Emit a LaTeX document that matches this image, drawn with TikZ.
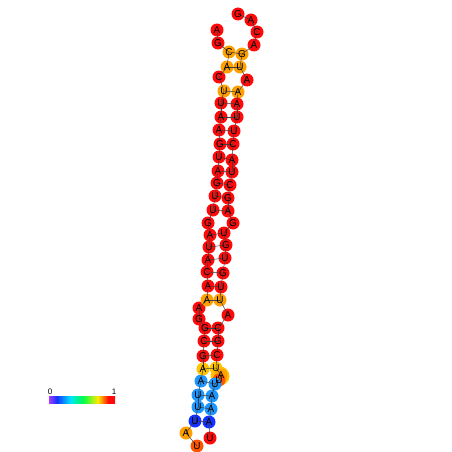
\documentclass[tikz,border=0pt]{standalone}
\usepackage{fontspec}
\setmainfont{Liberation Sans}
\definecolor{cR}{RGB}{255,10,10}
\definecolor{cO}{RGB}{255,160,0}
\definecolor{cY}{RGB}{255,195,0}
\definecolor{cL}{RGB}{255,85,0}
\definecolor{cB}{RGB}{30,150,255}
\definecolor{cD}{RGB}{20,50,255}
\definecolor{cV}{RGB}{165,60,255}
\definecolor{cC}{RGB}{0,225,255}
\definecolor{cG}{RGB}{0,255,70}
\definecolor{cYe}{RGB}{255,235,0}
\pgfdeclarehorizontalshading{rnabar}{100bp}{color(0bp)=(cV); color(25bp)=(cV); color(31bp)=(cD); color(41bp)=(cC); color(51bp)=(cG); color(62bp)=(cYe); color(70bp)=(cR); color(75bp)=(cR); color(100bp)=(cR)}
\begin{document}
\begin{tikzpicture}[x=1pt,y=-1pt]
\tikzset{
  nt/.style={circle,inner sep=0pt,minimum size=13pt,fill=#1},
  lbl/.style={inner sep=0pt,font=\fontsize{10}{10}\selectfont},
  bb/.style={draw=black!75,line width=0.5pt},
  halo/.style={circle,inner sep=0pt,minimum size=19pt,fill=cY}
}
\useasboundingbox (0,0) rectangle (452,452);
\node[halo] (h64) at (220,376) {};
\foreach \i/\x/\y/\c in {
1/197/446/cL, 2/186/433/cO, 3/195/421/cD, 4/198/407/cB, 5/198/395/cB,
6/201/381/cB, 7/203/369/cY, 8/203/356/cR, 9/204/341/cR, 10/205/328/cR,
11/199/319/cR, 12/199/308/cR, 13/207/300/cO, 14/208/286/cR, 15/207/272/cR,
16/208/260/cR, 17/209/247/cR, 18/210/235/cR, 19/208/223/cR, 20/213/210/cR,
21/215/196/cR, 22/217/183/cR, 23/218/171/cR, 24/219/157/cR, 25/220/144/cR,
26/219/130/cR, 27/221/117/cR, 28/221/103/cR, 29/224/91/cO, 30/219/77/cR,
31/227/67/cO, 32/229/52/cO, 33/218/43/cR, 34/217/30/cR, 35/238/14/cR,
36/251/20/cR, 37/257/32/cR, 38/254/45/cR, 39/242/54/cO, 40/240/67/cO,
41/247/80/cR, 42/238/92/cO, 43/237/104/cR, 44/237/117/cR, 45/234/131/cR,
46/233/144/cR, 47/232/160/cR, 48/232/172/cR, 49/230/185/cR, 50/228/198/cR,
51/228/211/cR, 52/233/223/cR, 53/224/233/cR, 54/226/245/cR, 55/225/258/cR,
56/223/273/cR, 57/221/287/cR, 58/220/300/cO, 59/228/315/cR, 60/218/328/cR,
61/218/341/cR, 62/217/355/cR, 63/216/368/cY, 64/221/375/cO, 65/219/380/cL,
66/215/384/cB, 67/212/396/cB, 68/211/409/cB, 69/209/422/cD, 70/210/438/cR}
  \node[nt=\c] (n\i) at (\x,\y) {};
\foreach \i [evaluate=\i as \j using int(\i+1)] in {1,...,33,35,36,...,69}
  \draw[bb] (n\i.center) -- (n\j.center);
\foreach \a/\b in {3/69,4/68,5/67,6/66,7/63,8/62,9/61,10/60,13/58,14/57,15/56,
  16/55,17/54,18/53,20/51,21/50,22/49,23/48,24/47,25/46,26/45,27/44,28/43,
  29/42,31/40,32/39}
  \draw[bb] (n\a.center) -- (n\b.center);
\foreach \i/\l in {1/U,2/A,3/U,4/U,5/U,6/A,7/A,8/G,9/C,10/G,11/G,12/A,13/A,
  14/A,15/C,16/A,17/U,18/A,19/G,20/U,21/U,22/G,23/A,24/U,25/G,26/A,27/A,28/U,
  29/U,30/C,31/A,32/C,33/G,34/A,35/G,36/A,37/C,38/A,39/G,40/U,41/A,42/A,43/A,
  44/U,45/U,46/C,47/A,48/U,49/C,50/G,51/A,52/G,53/U,54/G,55/U,56/G,57/U,58/U,
  59/A,60/C,61/G,62/C,63/U,64/A,65/U,66/U,67/A,68/A,69/A,70/U}
  \node[lbl] (t\i) at (n\i) {\l};
\shade[shading=rnabar] (49,396) rectangle (115,403);
\node[lbl,font=\fontsize{8}{8}\selectfont] (z0) at (50,392) {0};
\node[lbl,font=\fontsize{8}{8}\selectfont] (z1) at (114,392) {1};
\end{tikzpicture}
\end{document}
